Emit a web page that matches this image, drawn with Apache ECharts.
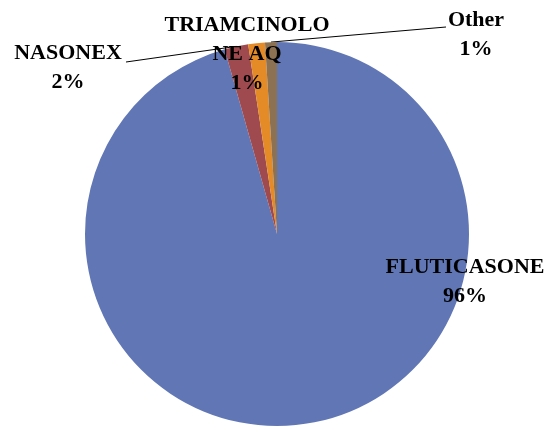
<!DOCTYPE html>
<html>
<head>
<meta charset="utf-8">
<script src="https://cdn.jsdelivr.net/npm/echarts@6/dist/echarts.min.js"></script>
<style>
  html, body { margin: 0; padding: 0; background: #fff; }
  #main { width: 547px; height: 428px; }
</style>
</head>
<body>
<div id="main"></div>
<script>
// data
const names = ['FLUTICASONE', 'NASONEX', 'TRIAMCINOLONE AQ', 'Other']
const labelText = ['FLUTICASONE', 'NASONEX', 'TRIAMCINOLO\nNE AQ', 'Other']
const values = [95.6, 2.0, 1.4, 1.0]
const colors = ['#6076B5', '#9E4A4F', '#E48A26', '#8C7153']

// where each label sits (block centre) and where its leader line ends
const labelPos = [[465, 282], [68, 68], [247, 54], [476, 35]]
const lineEnd = [null, [126, 62], null, [446, 27]]

let chart = echarts.init(document.getElementById('main'))

let option = {
  animation: false,
  backgroundColor: '#fff',
  series: [
    {
      type: 'pie',
      center: [277, 234],
      radius: 192,
      startAngle: 90,
      clockwise: true,
      percentPrecision: 0,
      label: {
        show: true,
        fontFamily: 'Liberation Serif',
        fontWeight: 'bold',
        fontSize: 22,
        lineHeight: 29,
        color: '#000',
        align: 'center',
        overflow: 'none',
        width: 200,
        formatter: (p) => labelText[p.dataIndex] + '\n' + Math.round(p.value) + '%'
      },
      labelLine: {
        show: true,
        lineStyle: { color: '#000', width: 1 }
      },
      labelLayout: (params) => {
        let i = params.dataIndex
        let res = {
          x: labelPos[i][0],
          y: labelPos[i][1],
          align: 'center',
          verticalAlign: 'middle'
        }
        if (lineEnd[i] && params.labelLinePoints) {
          let start = params.labelLinePoints[0]
          res.labelLinePoints = [start, start, lineEnd[i]]
        }
        return res
      },
      data: names.map((n, i) => ({
        name: n,
        value: values[i],
        itemStyle: { color: colors[i] },
        labelLine: { show: lineEnd[i] !== null }
      }))
    }
  ]
}
chart.setOption(option)
</script>
</body>
</html>
